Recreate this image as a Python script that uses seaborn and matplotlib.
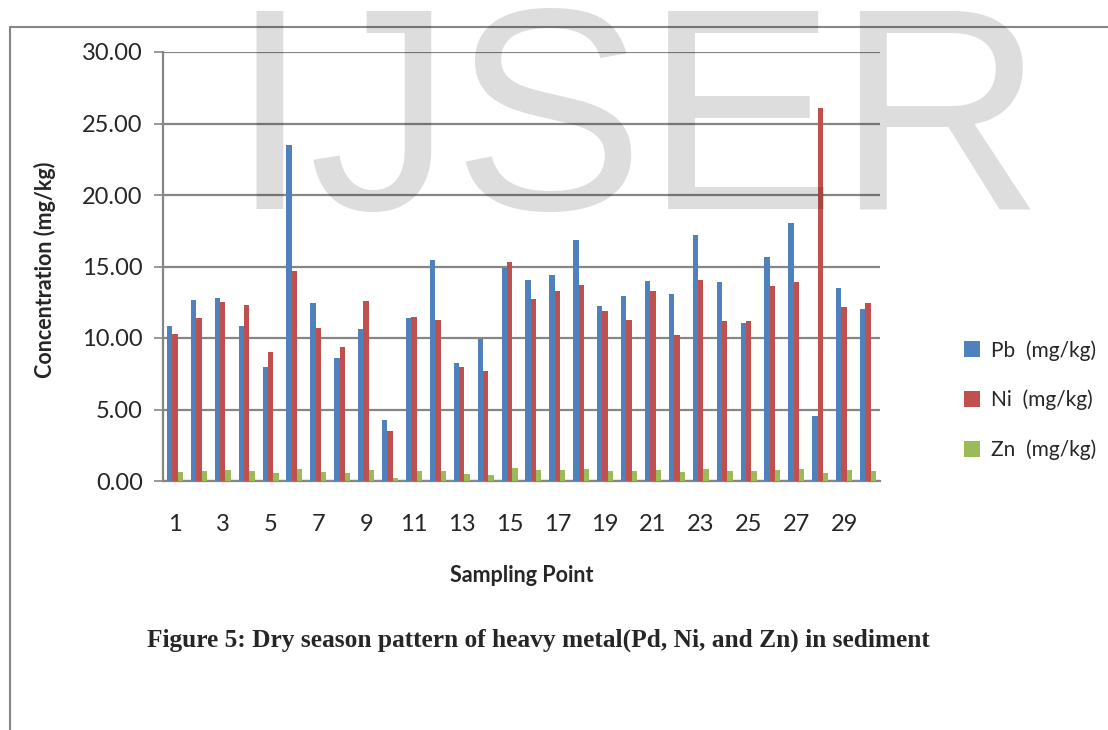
import matplotlib
matplotlib.use("Agg")
import matplotlib.pyplot as plt
import seaborn as sns
import pandas as pd
from matplotlib.lines import Line2D
from matplotlib.patches import Patch

points = [str(i) for i in range(1, 31)]
pb = [10.81, 12.68, 12.82, 10.81, 8.00, 23.51, 12.42, 8.61, 10.62, 4.26,
      11.37, 15.47, 8.24, 9.90, 14.90, 14.06, 14.39, 16.85, 12.21, 12.92,
      13.99, 13.10, 17.20, 13.92, 11.07, 15.63, 18.02, 4.56, 13.52, 12.00]
ni = [10.29, 11.39, 12.54, 12.28, 9.05, 14.72, 10.72, 9.34, 12.61, 3.49,
      11.44, 11.23, 8.00, 7.67, 15.30, 12.75, 13.27, 13.73, 11.89, 11.23,
      13.27, 10.18, 14.04, 11.21, 11.18, 13.66, 13.94, 26.09, 12.19, 12.42]
zn = [0.63, 0.70, 0.75, 0.70, 0.54, 0.87, 0.63, 0.56, 0.75, 0.21,
      0.68, 0.68, 0.47, 0.44, 0.91, 0.75, 0.77, 0.82, 0.70, 0.68,
      0.77, 0.61, 0.84, 0.68, 0.68, 0.80, 0.82, 0.54, 0.75, 0.73]
series = ["Pb  (mg/kg)", "Ni  (mg/kg)", "Zn  (mg/kg)"]
colors = ["#4F81BD", "#C0504D", "#9BBB59"]
y_ticks = [0, 5, 10, 15, 20, 25, 30]

df = pd.DataFrame({
    "point": points * 3,
    "value": pb + ni + zn,
    "metal": [series[0]] * 30 + [series[1]] * 30 + [series[2]] * 30,
})

sns.set_style("white")
plt.rcParams["font.family"] = ["Lato", "DejaVu Sans"]

fig = plt.figure(figsize=(11.08, 7.30), dpi=100)
ax = fig.add_axes([163 / 1108, 1 - 481 / 730, 717 / 1108, 429 / 730])
ax.set_facecolor("none")

sns.barplot(data=df, x="point", y="value", hue="metal", order=points,
            hue_order=series, palette=colors, width=0.667, linewidth=0,
            saturation=1, ax=ax, legend=False, zorder=3)

grid_c = "#868686"
ax.set_ylim(0, 30)
ax.set_xlim(-0.5, 29.5)
ax.set_yticks(y_ticks)
ax.set_yticklabels([f"{v:.2f}" for v in y_ticks], fontsize=17)
ax.yaxis.grid(True, color=grid_c, linewidth=1.6, zorder=0)
ax.set_axisbelow(True)
ax.set_xticks(range(0, 30, 2))
ax.set_xticklabels(points[::2], fontsize=17)
ax.tick_params(axis="x", length=0, pad=24)
ax.tick_params(axis="y", direction="out", length=6.5, width=1.2, color=grid_c, left=True, pad=8)
for s in ["top", "right"]:
    ax.spines[s].set_visible(False)
for s in ["left", "bottom"]:
    ax.spines[s].set_color(grid_c)
    ax.spines[s].set_linewidth(1.6)

ax.set_xlabel("Sampling Point", fontsize=15.5, fontweight="bold")
ax.xaxis.set_label_coords(0.5, (481 - 575) / 429)
ax.xaxis.label.set_va("center")
ax.set_ylabel("Concentration (mg/kg)", fontsize=15.5, fontweight="bold")
ax.yaxis.set_label_coords((45 - 163) / 717, (481 - 270) / 429)
ax.yaxis.label.set_va("center")

handles = [Patch(facecolor=c, edgecolor="none") for c in colors]
leg = fig.legend(handles, series, loc="center left",
                 bbox_to_anchor=(945 / 1108, 1 - 400 / 730), frameon=False,
                 fontsize=15, handlelength=0.8, handleheight=0.8,
                 handletextpad=0.5, labelspacing=1.4)

fig.text(147 / 1108, 1 - 640 / 730,
         "Figure 5: Dry season pattern of heavy metal(Pd, Ni, and Zn) in sediment",
         family="Liberation Serif", fontweight="bold", fontsize=18.3, va="center", ha="left")

fig.add_artist(Line2D([10 / 1108, 10 / 1108], [0, 1 - 27 / 730], color=grid_c,
                      linewidth=1.5, transform=fig.transFigure))
fig.add_artist(Line2D([10 / 1108, 1], [1 - 27 / 730, 1 - 27 / 730], color=grid_c,
                      linewidth=1.5, transform=fig.transFigure))

fig.text(230 / 1108, 1 - 209 / 730, "IJSER", family="Liberation Sans",
         fontsize=207, color="black", alpha=0.135, ha="left", va="baseline", zorder=10)

fig.savefig("out.png", dpi=100)
